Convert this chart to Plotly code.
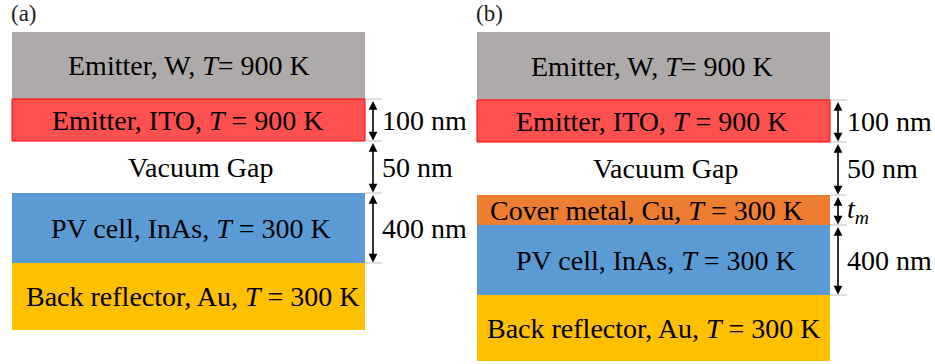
import plotly.graph_objects as go

# ---- data ----
panel_titles = ["(a)", "(b)"]

layers_a_labels = [
    "Emitter, W, <i>T</i>= 900 K",
    "Emitter, ITO, <i>T</i> = 900 K",
    "Vacuum Gap",
    "PV cell, InAs, <i>T</i> = 300 K",
    "Back reflector, Au, <i>T</i> = 300 K",
]
layers_a_colors = ["#AEAAAA", "#FF5050", None, "#5B9BD5", "#FFC000"]
dims_a_labels = ["100 nm", "50 nm", "400 nm"]
dims_a_layers = [1, 2, 3]

layers_b_labels = [
    "Emitter, W, <i>T</i>= 900 K",
    "Emitter, ITO, <i>T</i> = 900 K",
    "Vacuum Gap",
    "Cover metal, Cu, <i>T</i> = 300 K",
    "PV cell, InAs, <i>T</i> = 300 K",
    "Back reflector, Au, <i>T</i> = 300 K",
]
layers_b_colors = ["#AEAAAA", "#FF5050", None, "#ED7D31", "#5B9BD5", "#FFC000"]
dims_b_labels = ["100 nm", "50 nm", "<i>t<sub>m</sub></i>", "400 nm"]
dims_b_layers = [1, 2, 3, 4]

# ---- layout (diagram geometry, pixel units of the window) ----
edges_a = [32, 99, 141, 193, 263, 330]
edges_b = [32, 100, 142, 195, 225, 295, 361]
label_dx_a = [0, -1, 12, 2, 4]
label_dx_b = [-2, -2, 12, -7, 2, 0]

FONT = "Liberation Serif, Times New Roman, serif"
W, H = 935, 364

fig = go.Figure()
shapes = []
annotations = []


def draw_panel(x0, labels, colors, edges, dx, dim_labels, dim_layers, title):
    x1 = x0 + 353
    for i, (lab, col) in enumerate(zip(labels, colors)):
        yt, yb = edges[i], edges[i + 1]
        if col is not None:
            line = dict(width=1, color="#FF0000") if col == "#FF5050" else dict(width=0)
            shapes.append(dict(type="rect", xref="x", yref="y", x0=x0, x1=x1, y0=yt, y1=yb,
                               fillcolor=col, line=line, layer="below"))
        annotations.append(dict(x=(x0 + x1) / 2 + dx[i], y=(yt + yb) / 2, xref="x", yref="y",
                                text=lab, showarrow=False, xanchor="center", yanchor="middle",
                                font=dict(family=FONT, size=28, color="black")))
    first, last = dim_layers[0], dim_layers[-1]
    for k in range(first, last + 2):
        yk = edges[k]
        shapes.append(dict(type="line", xref="x", yref="y", x0=x1, x1=x1 + 17, y0=yk, y1=yk,
                           line=dict(color="#BFBFBF", width=1)))
    ax = x1 + 8
    for lab, li in zip(dim_labels, dim_layers):
        yt, yb = edges[li], edges[li + 1]
        annotations.append(dict(x=ax, y=yb - 0.5, ax=ax, ay=yt + 0.5, xref="x", yref="y",
                                axref="x", ayref="y", text="", showarrow=True,
                                arrowhead=2, startarrowhead=2, arrowside="end+start",
                                arrowsize=1.1, startarrowsize=1.1, arrowwidth=1.6,
                                arrowcolor="black"))
        annotations.append(dict(x=x1 + 15, y=(yt + yb) / 2, xref="x", yref="y", text=lab,
                                showarrow=False, xanchor="left", yanchor="middle",
                                font=dict(family=FONT, size=28, color="black")))
    annotations.append(dict(x=x0 - 3, y=13, xref="x", yref="y", text=title, showarrow=False,
                            xanchor="left", yanchor="middle",
                            font=dict(family=FONT, size=23, color="#222222")))


draw_panel(12, layers_a_labels, layers_a_colors, edges_a, label_dx_a,
           dims_a_labels, dims_a_layers, panel_titles[0])
draw_panel(477, layers_b_labels, layers_b_colors, edges_b, label_dx_b,
           dims_b_labels, dims_b_layers, panel_titles[1])

fig.update_layout(
    width=W, height=H,
    margin=dict(l=0, r=0, t=0, b=0),
    paper_bgcolor="white", plot_bgcolor="white",
    xaxis=dict(range=[0, W], visible=False, fixedrange=True),
    yaxis=dict(range=[H, 0], visible=False, fixedrange=True),
    shapes=shapes, annotations=annotations, showlegend=False,
)

fig.write_html("out.html",
               config={"displayModeBar": False, "staticPlot": True},
               post_script="document.body.style.margin='0';document.body.style.overflow='hidden';")
